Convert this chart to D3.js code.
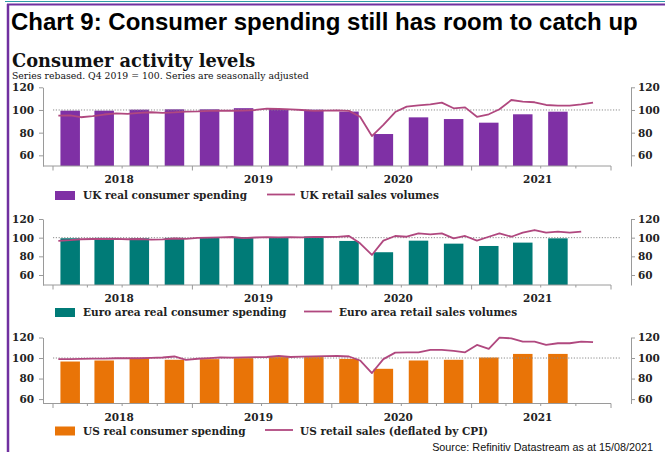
<!DOCTYPE html>
<html>
<head>
<meta charset="utf-8">
<script src="https://cdn.jsdelivr.net/npm/d3@7"></script>
<style>
  html, body { margin: 0; padding: 0; background: #fff; }
  svg { display: block; }
</style>
</head>
<body>
<svg id="chart" width="665" height="452"></svg>
<script>
// ---- Data (index = 100 in Q4 2019) ----
const yearLabels = ["2018", "2019", "2020", "2021"];
const yTicks = [60, 80, 100, 120];

// Quarterly real consumer spending, from Q1 2018
const ukSpending   = [99.4, 99.4, 100.3, 100.6, 100.6, 101.6, 100.9, 100.3, 98.6, 78.8, 93.5, 92.0, 88.8, 96.2, 98.5];
const euroSpending = [99.4, 99.8, 99.4, 99.8, 100.0, 100.6, 100.7, 101.2, 96.5, 84.4, 96.8, 93.6, 91.1, 94.7, 99.3];
const usSpending   = [96.6, 97.6, 99.9, 98.3, 98.9, 99.9, 100.9, 100.9, 99.2, 89.5, 97.6, 98.3, 100.5, 104.0, 104.0];

// Monthly retail sales, from January 2018
const ukRetail = [95.0, 95.3, 93.6, 94.5, 96.0, 97.0, 96.5, 97.5, 98.0, 97.5, 97.8, 98.5,
                  98.7, 99.2, 99.5, 99.3, 99.5, 100.0, 101.2, 101.0, 100.5, 100.0, 99.2, 99.5,
                  99.6, 99.2, 94.0, 77.0, 86.8, 98.2, 103.0, 104.1, 105.0, 106.5, 101.5, 102.3,
                  94.0, 96.2, 100.6, 108.8, 107.3, 106.8, 104.4, 103.8, 103.8, 105.0, 106.5];
const euroRetail = [96.5, 97.3, 98.3, 98.6, 98.6, 98.7, 98.3, 98.6, 97.8, 98.2, 99.1, 98.8,
                    99.7, 100.0, 100.3, 100.7, 99.5, 100.2, 100.5, 100.3, 100.6, 100.3, 100.8, 100.7,
                    100.8, 101.8, 94.0, 81.5, 96.8, 101.8, 101.0, 104.6, 103.6, 104.6, 99.3, 101.8,
                    96.8, 101.0, 104.6, 101.0, 105.3, 108.2, 105.3, 106.4, 105.3, 106.4];
const usRetail = [98.9, 98.9, 99.2, 99.5, 99.4, 99.8, 100.0, 99.8, 100.2, 100.5, 101.5, 98.3,
                  99.3, 100.0, 100.5, 100.3, 100.6, 100.9, 101.0, 102.0, 101.0, 101.3, 101.6, 101.8,
                  102.0, 101.5, 97.6, 85.4, 98.9, 105.3, 105.6, 105.6, 108.0, 108.0, 107.0, 105.6,
                  112.8, 108.9, 119.8, 119.2, 116.0, 116.0, 112.8, 114.4, 114.4, 116.0, 115.4];

const barLabels  = ["UK real consumer spending", "Euro area real consumer spending", "US real consumer spending"];
const lineLabels = ["UK retail sales volumes", "Euro area retail sales volumes", "US retail sales (deflated by CPI)"];

// ---- Layout ----
const svg = d3.select("#chart");
const serif = "'DejaVu Serif', serif";
const sans = "'Liberation Sans', Arial, sans-serif";
const axisGrey = "#9a9a9a";
const lineColor = "#b0487f";

const panels = [
  { bars: ukSpending,   line: ukRetail,   color: "#7f30a5", barLabel: barLabels[0], lineLabel: lineLabels[0],
    top: 87.3, bottom: 166, yMin: 50.6, legendY: 195.5, legendLine: [267, 295], legendText: 300 },
  { bars: euroSpending, line: euroRetail, color: "#007b77", barLabel: barLabels[1], lineLabel: lineLabels[1],
    top: 219, bottom: 285, yMin: 49.3, legendY: 312.5, legendLine: [304, 332], legendText: 339 },
  { bars: usSpending,   line: usRetail,   color: "#e97407", barLabel: barLabels[2], lineLabel: lineLabels[2],
    top: 337.5, bottom: 403.5, yMin: 55.7, legendY: 431, legendLine: [265, 293], legendText: 300 }
];

const leftX = 43, rightX = 631;
const x = d3.scaleTime()
  .domain([new Date(2018, 0, 1), new Date(2022, 0, 1)])
  .range([53, 611]);
const monthDate = i => new Date(2018, i, 15);
const quarterDate = i => new Date(2018, i * 3 + 1, 15);
const barW = 19.5;

// ---- Frame and headings ----
svg.append("line").attr("x1", 5).attr("x2", 665).attr("y1", 1.5).attr("y2", 1.5)
  .attr("stroke", "#2f9ea6").attr("stroke-width", 1.2);
svg.append("line").attr("x1", 7).attr("x2", 665).attr("y1", 4.5).attr("y2", 4.5)
  .attr("stroke", "#7030a0").attr("stroke-width", 2);
svg.append("line").attr("x1", 8).attr("x2", 8).attr("y1", 4).attr("y2", 452)
  .attr("stroke", "#7030a0").attr("stroke-width", 2.5);

svg.append("text").attr("x", 11).attr("y", 30)
  .attr("font-family", sans).attr("font-weight", "bold").attr("font-size", 24)
  .attr("fill", "#000")
  .text("Chart 9: Consumer spending still has room to catch up");

svg.append("text").attr("x", 12).attr("y", 67)
  .attr("font-family", serif).attr("font-weight", "bold").attr("font-size", 17.8)
  .attr("fill", "#111")
  .text("Consumer activity levels");

svg.append("text").attr("x", 12).attr("y", 78.5)
  .attr("font-family", serif).attr("font-size", 9.3).attr("fill", "#111")
  .text("Series rebased. Q4 2019 = 100. Series are seasonally adjusted");

svg.append("text").attr("x", 653).attr("y", 451).attr("text-anchor", "end")
  .attr("font-family", sans).attr("font-size", 10.8).attr("fill", "#111")
  .text("Source: Refinitiv Datastream as at 15/08/2021");

// ---- Panels ----
panels.forEach(p => {
  const y = d3.scaleLinear().domain([p.yMin, 120]).range([p.bottom, p.top]);
  const g = svg.append("g");

  // bars
  g.selectAll("rect.bar").data(p.bars).join("rect")
    .attr("class", "bar")
    .attr("x", (d, i) => x(quarterDate(i)) - barW / 2)
    .attr("width", barW)
    .attr("y", d => y(d))
    .attr("height", d => p.bottom - y(d))
    .attr("fill", p.color);

  // reference line at 100
  g.append("line")
    .attr("x1", 53).attr("x2", 620)
    .attr("y1", y(100)).attr("y2", y(100))
    .attr("stroke", "#8c8c8c").attr("stroke-width", 1)
    .attr("stroke-dasharray", "1.2,1.6");

  // retail sales line
  g.append("path")
    .datum(p.line)
    .attr("fill", "none")
    .attr("stroke", lineColor)
    .attr("stroke-width", 1.8)
    .attr("stroke-linejoin", "round")
    .attr("d", d3.line().x((d, i) => x(monthDate(i))).y(d => y(d)));

  // left and right value axes
  const styleAxis = sel => {
    sel.selectAll(".domain").attr("stroke", axisGrey);
    sel.selectAll(".tick line").attr("stroke", axisGrey);
    sel.selectAll(".tick text")
      .attr("font-family", serif).attr("font-weight", "bold")
      .attr("font-size", 10.5).attr("fill", "#222");
  };
  g.append("g").attr("transform", `translate(${leftX},0)`)
    .call(d3.axisLeft(y).tickValues(yTicks).tickSize(4).tickSizeOuter(0).tickPadding(5))
    .call(styleAxis);
  g.append("g").attr("transform", `translate(${rightX},0)`)
    .call(d3.axisRight(y).tickValues(yTicks).tickSize(4).tickSizeOuter(0).tickPadding(3))
    .call(styleAxis);

  // time axis: baseline plus quarter and year ticks
  g.append("line")
    .attr("x1", leftX).attr("x2", 611)
    .attr("y1", p.bottom).attr("y2", p.bottom)
    .attr("stroke", axisGrey);
  const quarterTicks = d3.timeMonth.every(3).range(new Date(2018, 0, 1), new Date(2022, 0, 2));
  g.selectAll("line.qtick").data(quarterTicks).join("line")
    .attr("class", "qtick")
    .attr("x1", d => x(d)).attr("x2", d => x(d))
    .attr("y1", p.bottom)
    .attr("y2", d => p.bottom + (d.getMonth() === 0 ? 4.5 : 2.5))
    .attr("stroke", axisGrey);
  g.selectAll("text.year").data(yearLabels).join("text")
    .attr("class", "year")
    .attr("x", d => x(new Date(+d, 6, 1)) - 3)
    .attr("y", p.bottom + 17)
    .attr("text-anchor", "middle")
    .attr("font-family", serif).attr("font-weight", "bold")
    .attr("font-size", 10.5).attr("fill", "#222")
    .text(d => d);

  // legend
  g.append("rect")
    .attr("x", 55).attr("y", p.legendY - 4.5)
    .attr("width", 20).attr("height", 9)
    .attr("fill", p.color);
  g.append("text")
    .attr("x", 83).attr("y", p.legendY + 3.8)
    .attr("font-family", serif).attr("font-weight", "bold")
    .attr("font-size", 10.5).attr("fill", "#222")
    .text(p.barLabel);
  g.append("line")
    .attr("x1", p.legendLine[0]).attr("x2", p.legendLine[1])
    .attr("y1", p.legendY - 1).attr("y2", p.legendY - 1)
    .attr("stroke", lineColor).attr("stroke-width", 1.8);
  g.append("text")
    .attr("x", p.legendText).attr("y", p.legendY + 3.8)
    .attr("font-family", serif).attr("font-weight", "bold")
    .attr("font-size", 10.5).attr("fill", "#222")
    .text(p.lineLabel);
});
</script>
</body>
</html>
